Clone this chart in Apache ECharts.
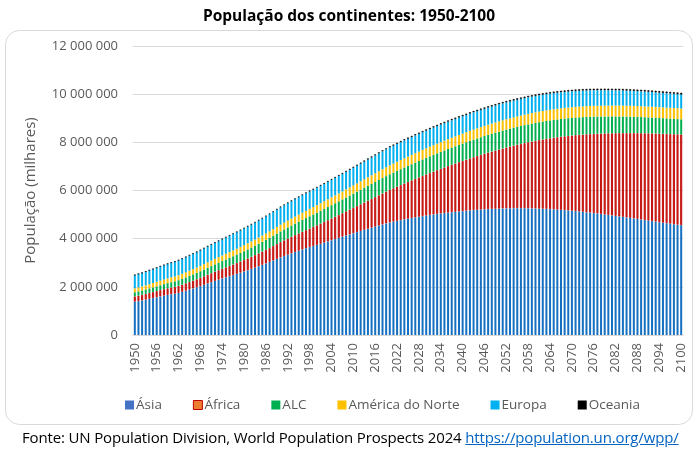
<!DOCTYPE html>
<html><head><meta charset="utf-8">
<script src="https://cdn.jsdelivr.net/npm/echarts@6/dist/echarts.min.js"></script>
<style>
html,body{margin:0;padding:0;background:#fff;}
#c{width:698px;height:451px;}
#foot{position:absolute;left:22px;top:427px;font-family:"Open Sans",sans-serif;font-size:15px;color:#000;white-space:nowrap;letter-spacing:-0.15px;}
#foot a{color:#0563C1;text-decoration:underline;}
</style></head>
<body>
<div id="c"></div>
<div id="foot">Fonte: UN Population Division, World Population Prospects 2024 <a href="#">https://population.un.org/wpp/</a></div>
<script>
// values in millions (chart shows thousands)
const years = [];
for (let y = 1950; y <= 2100; y++) years.push(String(y));

const asia = [1379,1406,1435,1466,1498,1531,1565,1600,1632,1664,1690,
1712,1746,1790,1835,1882,1930,1979,2030,2083,2139,
2192,2244,2295,2345,2393,2440,2487,2536,2585,2634,
2687,2741,2796,2852,2910,2969,3030,3092,3156,3219,
3277,3334,3389,3443,3496,3548,3598,3647,3693,3737,
3786,3835,3884,3933,3982,4031,4080,4129,4176,4223,
4270,4318,4365,4411,4456,4500,4543,4586,4628,4669,
4705,4737,4768,4798,4827,4855,4882,4908,4933,4957,
4980,5002,5023,5043,5062,5080,5097,5113,5128,5142,
5157,5171,5184,5196,5207,5217,5226,5234,5241,5247,
5252,5256,5259,5261,5262,5262,5261,5259,5256,5252,
5247,5241,5234,5226,5217,5207,5196,5184,5171,5158,
5144,5129,5113,5096,5079,5061,5042,5022,5002,4981,
4962,4942,4922,4901,4880,4859,4837,4815,4793,4771,
4749,4727,4705,4683,4661,4640,4619,4598,4578,4558];

const africa = [227,232,237,242,248,253,259,265,271,277,283,
290,297,305,312,320,328,337,346,355,365,
375,386,397,408,419,431,443,455,468,481,
495,509,523,538,553,569,585,602,620,638,
655,672,689,706,723,740,758,777,798,819,
840,862,884,907,930,954,978,1003,1029,1056,
1083,1111,1139,1168,1197,1228,1259,1291,1323,1356,
1390,1424,1459,1494,1529,1565,1601,1637,1674,1711,
1748,1785,1822,1860,1897,1935,1973,2011,2049,2087,
2125,2163,2200,2238,2275,2312,2349,2385,2421,2457,
2494,2531,2567,2603,2639,2674,2709,2744,2778,2812,
2846,2879,2912,2944,2976,3007,3038,3068,3098,3127,
3156,3184,3212,3239,3266,3292,3318,3343,3368,3392,
3416,3439,3462,3484,3506,3527,3548,3568,3588,3607,
3626,3644,3662,3679,3696,3712,3728,3743,3758,3772];

const alc = [169,174,178,183,188,193,198,203,209,214,220,
226,232,238,245,251,258,265,272,279,287,
294,302,309,317,324,332,340,347,355,363,
371,379,387,395,404,412,420,428,436,444,
452,460,468,476,484,492,499,507,515,522,
530,537,544,551,558,564,571,578,584,591,
597,603,609,615,621,627,633,638,643,648,
651,655,659,663,667,671,675,679,683,687,
691,694,698,701,704,707,710,713,716,719,
721,724,726,728,730,732,734,736,737,739,
740,741,742,743,743,744,744,744,743,743,
742,741,740,739,738,736,735,733,731,729,
727,724,722,719,717,714,711,708,705,702,
699,695,692,688,685,681,677,673,669,665,
661,657,653,649,645,641,637,633,629,625];

const norte = [162,166,169,173,177,181,185,188,192,196,199,
203,206,209,212,215,218,220,222,225,227,
230,232,234,236,239,241,244,246,249,252,
254,257,259,262,264,267,270,273,276,280,
283,287,290,294,297,300,304,307,310,313,
316,319,322,325,328,331,334,337,340,343,
346,349,352,355,358,361,364,367,369,372,
373,376,380,383,386,388,390,392,395,397,
399,401,402,404,406,408,409,411,413,414,
416,417,419,420,421,423,424,425,426,428,
429,430,431,432,433,434,435,436,437,438,
439,439,440,441,442,442,443,444,444,445,
446,446,447,447,448,448,449,449,449,450,
450,450,451,451,451,451,451,451,451,451,
451,451,450,450,450,450,449,449,449,448];

const europa = [550,555,560,566,571,577,582,588,594,600,606,
612,617,623,628,634,639,643,648,652,657,
661,665,669,673,677,680,684,687,691,694,
697,699,702,705,708,711,714,717,720,722,
724,725,726,727,727,727,727,727,727,727,
727,727,728,729,730,731,732,734,735,736,
737,738,739,740,741,742,743,744,745,746,
745,744,744,743,742,741,740,739,738,736,
735,734,732,731,729,728,726,725,723,722,
720,718,717,715,713,711,709,707,706,704,
702,700,698,696,694,692,689,687,685,683,
681,679,676,674,672,670,667,665,663,660,
658,656,653,651,649,647,644,642,640,638,
635,633,630,628,625,622,620,617,615,612,
609,607,604,601,599,596,594,591,588,586];

const oceania = [12.9,13.2,13.5,13.8,14.0,14.3,14.6,14.9,15.2,15.5,15.9,
16.2,16.6,17.0,17.3,17.7,18.1,18.5,18.9,19.2,19.6,
20.0,20.3,20.6,20.9,21.2,21.5,21.8,22.1,22.5,22.9,
23.3,23.7,24.1,24.5,24.9,25.3,25.7,26.1,26.6,27.0,
27.4,27.8,28.2,28.6,29.0,29.4,29.8,30.2,30.7,31.2,
31.7,32.2,32.7,33.2,33.8,34.4,35.0,35.7,36.4,37.1,
37.7,38.3,39.0,39.7,40.4,41.1,41.8,42.5,43.2,43.9,
44.2,44.6,45.3,46.0,46.6,47.2,47.7,48.3,48.8,49.3,
49.8,50.3,50.8,51.3,51.8,52.2,52.7,53.1,53.6,54.0,
54.5,54.9,55.3,55.7,56.1,56.5,56.9,57.3,57.6,58.0,
58.4,58.7,59.1,59.4,59.7,60.1,60.4,60.7,61.0,61.3,
61.6,61.9,62.2,62.5,62.7,63.0,63.3,63.5,63.8,64.0,
64.3,64.5,64.7,64.9,65.2,65.4,65.6,65.8,66.0,66.2,
66.4,66.6,66.7,66.9,67.1,67.2,67.4,67.5,67.7,67.8,
67.9,68.0,68.2,68.3,68.4,68.5,68.6,68.6,68.7,68.8];

const seriesNames = ['Ásia','África','ALC','América do Norte','Europa','Oceania'];
const seriesData = [asia, africa, alc, norte, europa, oceania];
const barFills = ['#1570C2','#D9452A','#00B050','#FFC000','#00B0F0','#000000'];
const barBorders = ['#1570C2','#C00000','#00B050','#FFC000','#00B0F0','#000000'];
const borderW = [0,0.9,0,0,0,0.6];
const legendFills = ['#4472C4','#ED7D31','#00B050','#FFC000','#00B0F0','#000000'];
const legendBorders = ['#4472C4','#C00000','#00B050','#FFC000','#00B0F0','#000000'];

const FONT = '"Open Sans", sans-serif';
const chart = echarts.init(document.getElementById('c'), null, {renderer:'canvas'});
chart.setOption({
  animation:false,
  title:{text:'População dos continentes: 1950-2100', left:'center', top:4,
    textStyle:{fontFamily:FONT, fontSize:15.5, fontWeight:'bold', color:'#000'}},
  graphic:[{type:'rect', shape:{x:5.5,y:30.5,width:687,height:394,r:14},
    style:{fill:'none', stroke:'#D9D9D9', lineWidth:1}, z:-1}],
  legend:{
    data:seriesNames.map((n,i)=>({name:n, itemStyle:{color:legendFills[i], borderColor:legendBorders[i], borderWidth:(i===1?1:0)}})),
    top:393, left:120, itemWidth:9, itemHeight:9, itemGap:31,
    icon:'rect', textStyle:{fontFamily:FONT, fontSize:13.5, color:'#595959', padding:[0,0,0,-3]}},
  grid:{left:133, right:15, top:46, bottom:116, containLabel:false},
  xAxis:{type:'category', data:years,
    axisLine:{lineStyle:{color:'#D9D9D9'}}, axisTick:{show:false},
    axisLabel:{interval:5, rotate:90, fontFamily:FONT, fontSize:13, color:'#595959', margin:8}},
  yAxis:{type:'value', min:0, max:12000000, interval:2000000,
    name:'População (milhares)', nameLocation:'middle', nameGap:95, nameRotate:90,
    nameTextStyle:{fontFamily:FONT, fontSize:15, color:'#595959'},
    splitLine:{lineStyle:{color:'#D9D9D9'}}, axisLine:{show:false}, axisTick:{show:false},
    axisLabel:{fontFamily:FONT, fontSize:13, color:'#595959', margin:15,
      formatter:v=>String(v).replace(/\B(?=(\d{3})+(?!\d))/g,' ')}},
  series: seriesNames.map((n,i)=>({
    name:n, type:'bar', stack:'total', barCategoryGap:'45%',
    data: seriesData[i].map(v=>Math.round(v*1000)),
    itemStyle:{color:barFills[i], borderColor:barBorders[i], borderWidth:borderW[i]},
    emphasis:{disabled:true}
  }))
});
</script>
</body></html>
